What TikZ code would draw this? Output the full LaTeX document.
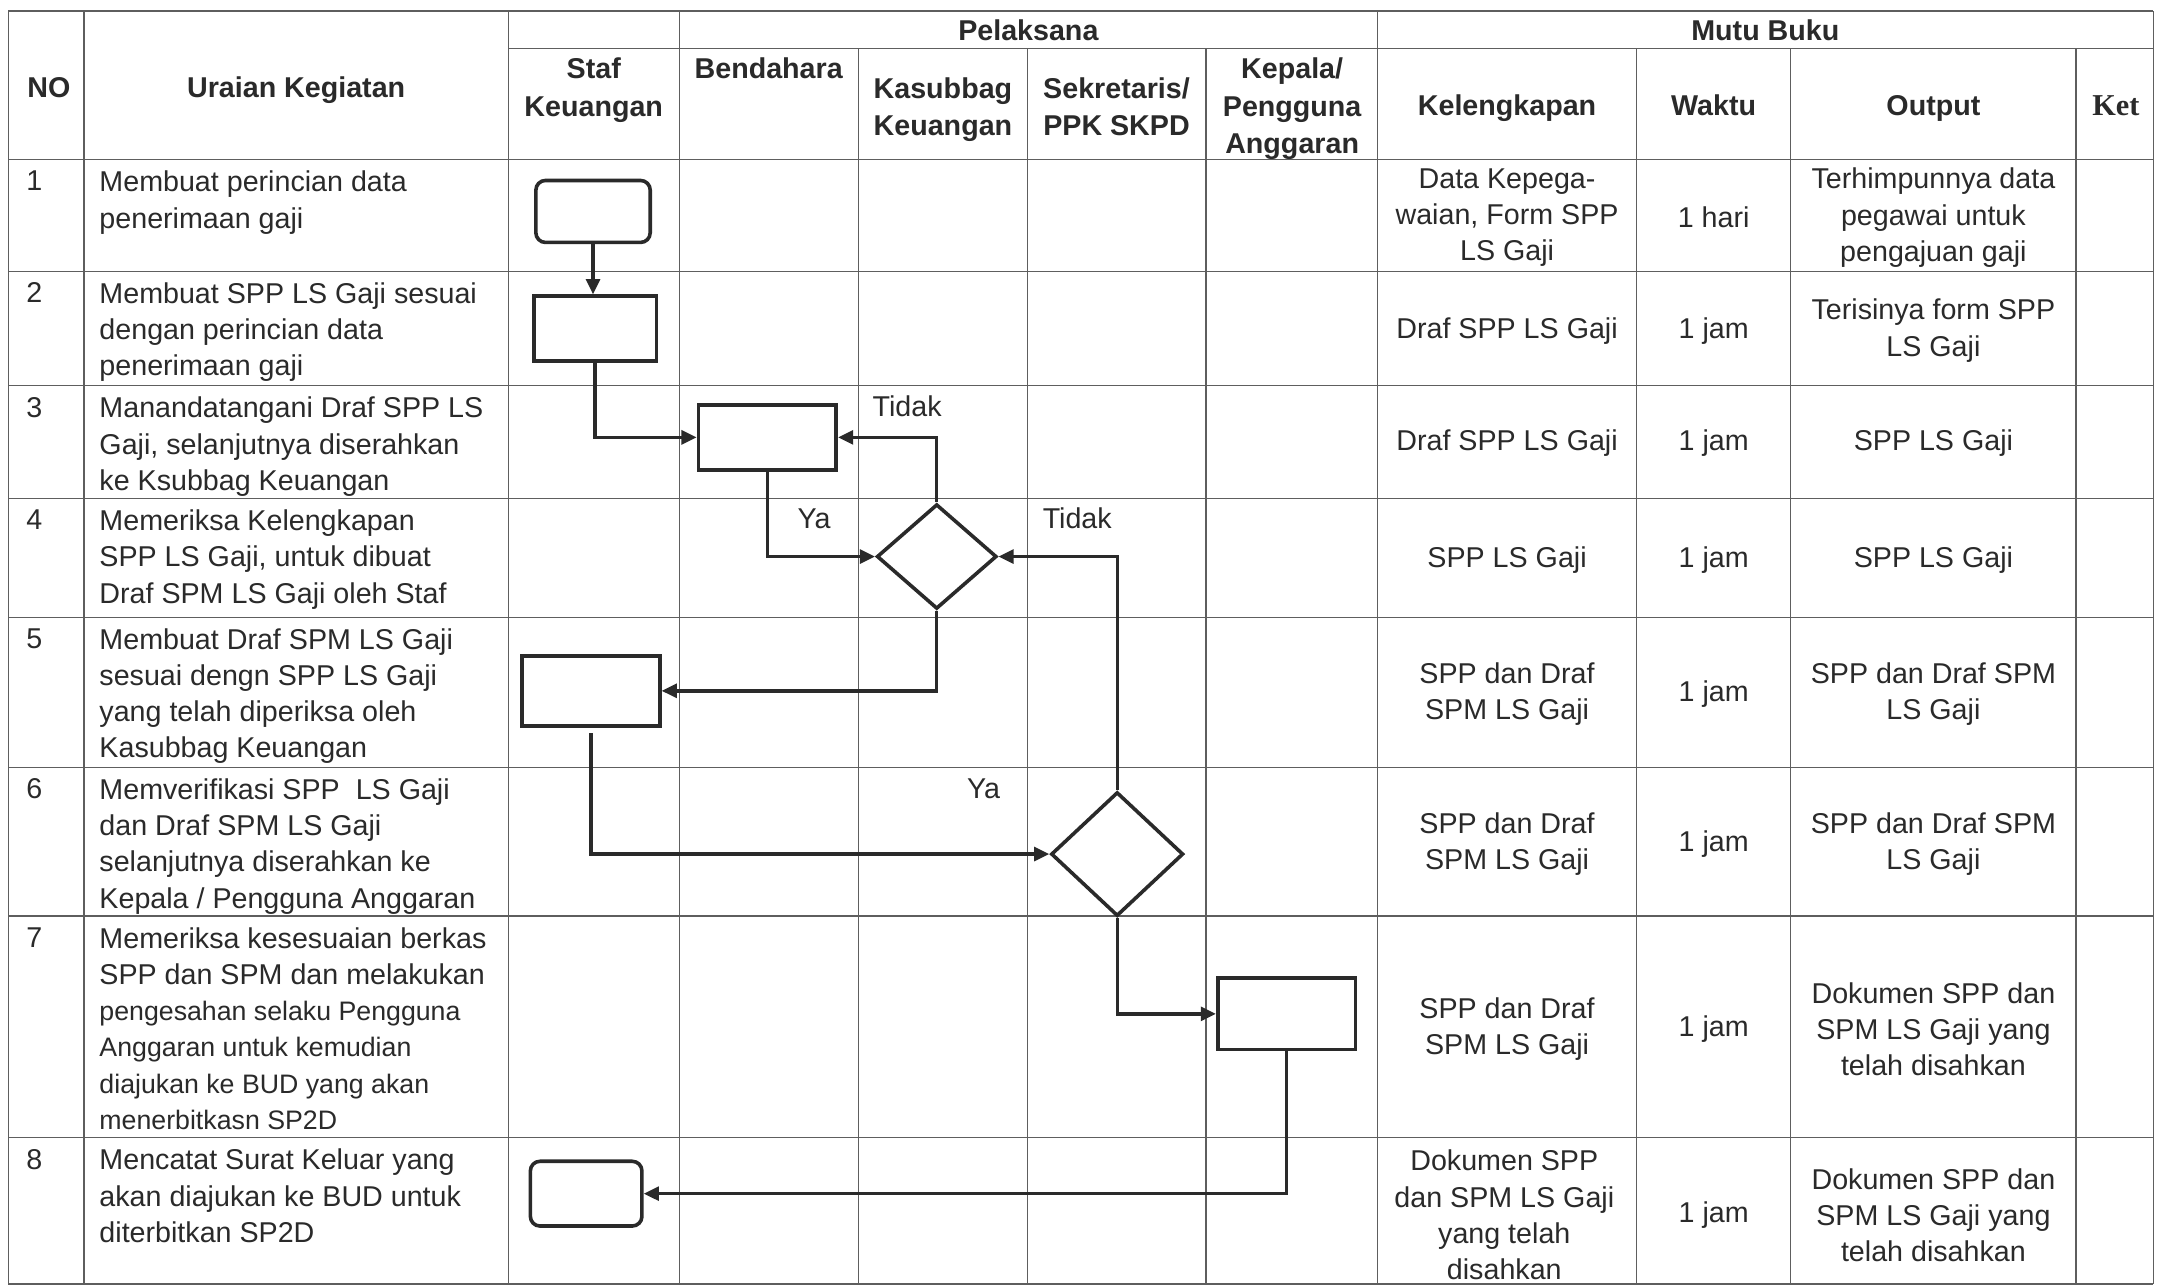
\documentclass[tikz,border=0pt]{standalone}
\usepackage{fontspec}
\setmainfont{Liberation Sans}
\newfontfamily\serifbold{Liberation Serif}
\usetikzlibrary{arrows.meta,shapes.geometric}
\definecolor{ink}{HTML}{2A2A2A}
\definecolor{gridc}{HTML}{5E5E5E}
\tikzset{
  gridline/.style={draw=gridc, line width=0.9pt},
  box/.style={draw=ink, line width=2.6pt, inner sep=0pt, fill=white, minimum width=100pt, minimum height=47pt},
  term/.style={box, rounded corners=7pt},
  dec/.style={diamond, draw=ink, line width=2.6pt, inner sep=0pt, fill=white},
  arr/.style={draw=ink, line width=2.4pt, -{Triangle[length=11pt,width=10pt]}},
  body/.style={font=\fontsize{20.8}{26.3}\selectfont, text=ink, inner sep=0pt, align=left, anchor=north west},
  cen/.style={font=\fontsize{20.8}{26.3}\selectfont, text=ink, inner sep=0pt, align=center, anchor=center},
  hd/.style={font=\fontsize{20.8}{27}\selectfont\bfseries, text=ink, inner sep=0pt, align=center},
  lbl/.style={font=\fontsize{20.8}{26.3}\selectfont, text=ink, inner sep=0pt, anchor=base}
}
\newcommand{\smtext}{\fontsize{19.4}{26.3}\selectfont}
\begin{document}
\begin{tikzpicture}[x=1pt,y=-1pt]
\useasboundingbox (0,0) rectangle (1568,934);
\fill[white] (0,0) rectangle (1568,934);

% ---------- grid ----------
\draw[gridline] (6,8) -- (1563,8);
\draw[gridline] (369,35) -- (1563,35);
\foreach \yy in {116,197,280,362,448,557,665,826,932}
  \draw[gridline] (6,\yy) -- (1563,\yy);
\foreach \xx in {6,61,369,493,1000,1563}
  \draw[gridline] (\xx,8) -- (\xx,932);
\foreach \xx in {623,746,875.5,1188,1300,1507}
  \draw[gridline] (\xx,35) -- (\xx,932);

% ---------- header ----------
\node[hd, anchor=base] (hNO) at (35.5,70.7) {NO};
\node[hd, anchor=base] (hUr) at (215,70.7) {Uraian Kegiatan};
\node[hd, anchor=base] (hPel) at (746.5,29.2) {Pelaksana};
\node[hd, anchor=base] (hMutu) at (1281.5,29.2) {Mutu Buku};
\node[hd, anchor=north] (hStaf) at (431,42) {Staf\\Keuangan};
\node[hd, anchor=base] (hBend) at (558,57.2) {Bendahara};
\node[hd, anchor=north] (hKas) at (684.5,56) {Kasubbag\\Keuangan};
\node[hd, anchor=north] (hSek) at (810.5,56) {Sekretaris/\\PPK SKPD};
\node[hd, anchor=north] (hKep) at (938,42) {Kepala/\\Pengguna\\Anggaran};
\node[hd, anchor=base] (hKel) at (1094,84.2) {Kelengkapan};
\node[hd, anchor=base] (hWak) at (1244,84.2) {Waktu};
\node[hd, anchor=base] (hOut) at (1403.5,84.2) {Output};
\node[hd, anchor=base, font=\fontsize{22}{27}\serifbold\bfseries] (hKet) at (1536,84.2) {Ket};

% ---------- numbers ----------
\node[body] (no1) at (19,124) {1};
\node[body] (no2) at (19,205) {2};
\node[body] (no3) at (19,288) {3};
\node[body] (no4) at (19,370) {4};
\node[body] (no5) at (19,456) {5};
\node[body] (no6) at (19,565) {6};
\node[body] (no7) at (19,673) {7};
\node[body] (no8) at (19,834) {8};

% ---------- uraian kegiatan ----------
\node[body] (u1) at (72,124) {Membuat perincian data\\penerimaan gaji};
\node[body] (u2) at (72,205) {Membuat SPP LS Gaji sesuai\\dengan perincian data\\penerimaan gaji};
\node[body] (u3) at (72,288) {Manandatangani Draf SPP LS\\Gaji, selanjutnya diserahkan\\ke Ksubbag Keuangan};
\node[body] (u4) at (72,370) {Memeriksa Kelengkapan\\SPP LS Gaji, untuk dibuat\\Draf SPM LS Gaji oleh Staf};
\node[body] (u5) at (72,456) {Membuat Draf SPM LS Gaji\\sesuai dengn SPP LS Gaji\\yang telah diperiksa oleh\\Kasubbag Keuangan};
\node[body] (u6) at (72,565) {Memverifikasi SPP\ \ LS Gaji\\dan Draf SPM LS Gaji\\selanjutnya diserahkan ke\\Kepala / Pengguna Anggaran};
\node[body] (u7) at (72,673) {Memeriksa kesesuaian berkas\\SPP dan SPM dan melakukan\\{\smtext pengesahan selaku Pengguna}\\{\smtext Anggaran untuk kemudian}\\{\smtext diajukan ke BUD yang akan}\\{\smtext menerbitkasn SP2D}};
\node[body] (u8) at (72,834) {Mencatat Surat Keluar yang\\akan diajukan ke BUD untuk\\diterbitkan SP2D};

% ---------- kelengkapan ----------
\node[cen] (k1) at (1094,158) {Data Kepega-\\waian, Form SPP\\LS Gaji};
\node[cen] (k2) at (1094,240) {Draf SPP LS Gaji};
\node[cen] (k3) at (1094,322) {Draf SPP LS Gaji};
\node[cen] (k4) at (1094,406.5) {SPP LS Gaji};
\node[cen] (k5) at (1094,504) {SPP dan Draf\\SPM LS Gaji};
\node[cen] (k6) at (1094,612.5) {SPP dan Draf\\SPM LS Gaji};
\node[cen] (k7) at (1094,747) {SPP dan Draf\\SPM LS Gaji};
\node[cen] (k8) at (1092,882) {Dokumen SPP\\dan SPM LS Gaji\\yang telah\\disahkan};

% ---------- waktu ----------
\node[cen] (w1) at (1244,158) {1 hari};
\node[cen] (w2) at (1244,240) {1 jam};
\node[cen] (w3) at (1244,322) {1 jam};
\node[cen] (w4) at (1244,406.5) {1 jam};
\node[cen] (w5) at (1244,504) {1 jam};
\node[cen] (w6) at (1244,612.5) {1 jam};
\node[cen] (w7) at (1244,747) {1 jam};
\node[cen] (w8) at (1244,882) {1 jam};

% ---------- output ----------
\node[cen] (o1) at (1403.5,158) {Terhimpunnya data\\pegawai untuk\\pengajuan gaji};
\node[cen] (o2) at (1403.5,240) {Terisinya form SPP\\LS Gaji};
\node[cen] (o3) at (1403.5,322) {SPP LS Gaji};
\node[cen] (o4) at (1403.5,406.5) {SPP LS Gaji};
\node[cen] (o5) at (1403.5,504) {SPP dan Draf SPM\\LS Gaji};
\node[cen] (o6) at (1403.5,612.5) {SPP dan Draf SPM\\LS Gaji};
\node[cen] (o7) at (1403.5,747) {Dokumen SPP dan\\SPM LS Gaji yang\\telah disahkan};
\node[cen] (o8) at (1403.5,882) {Dokumen SPP dan\\SPM LS Gaji yang\\telah disahkan};

% ---------- flowchart shapes ----------
\node[term, minimum width=83pt, minimum height=45pt] (s1) at (430.5,153.5) {};
\node[box, minimum width=89pt, minimum height=47pt] (s2) at (432,238.5) {};
\node[box, minimum width=100pt, minimum height=47pt] (s3) at (557,317.5) {};
\node[dec, minimum width=87pt, minimum height=76pt] (d4) at (680,404) {};
\node[box, minimum width=100pt, minimum height=51pt] (s5) at (429,501.5) {};
\node[dec, minimum width=96pt, minimum height=90pt] (d6) at (811,620) {};
\node[box, minimum width=100pt, minimum height=52pt] (s7) at (934,736) {};
\node[term, minimum width=81pt, minimum height=47pt] (s8) at (425.5,866.5) {};

% ---------- connectors ----------
\draw[arr] (s1.south) -- (s1.south |- s2.north);
\draw[arr] (s2.south) |- (s3.west);
\draw[arr] (s3.south) |- (d4.west);
\draw[arr] (d4.north) |- (s3.east);
\draw[arr] (d4.south) |- (s5.east);
\draw[arr] ([yshift=-4pt]s5.south) |- (d6.west);
\draw[arr] (d6.north) |- (d4.east);
\draw[arr] (d6.south) |- (s7.west);
\draw[arr] (s7.south) |- (s8.east);

% ---------- labels ----------
\node[lbl] (t1) at (658.5,302) {Tidak};
\node[lbl] (y1) at (591,384) {Ya};
\node[lbl] (t2) at (782,384) {Tidak};
\node[lbl] (y2) at (714,580) {Ya};
\end{tikzpicture}
\end{document}
